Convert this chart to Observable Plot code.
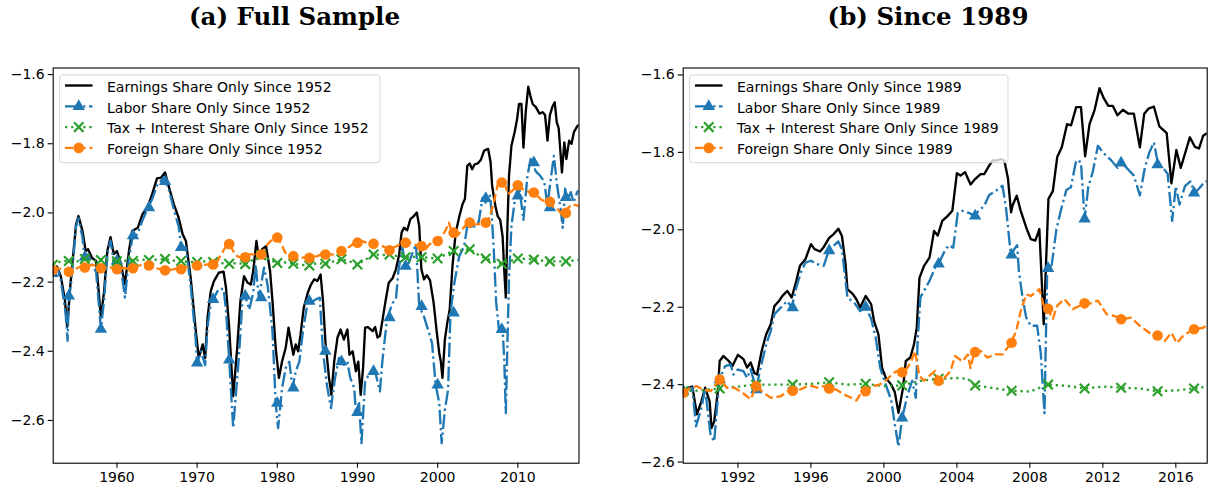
<!DOCTYPE html>
<html><head><meta charset="utf-8">
<script src="https://cdn.jsdelivr.net/npm/d3@7"></script>
<script src="https://cdn.jsdelivr.net/npm/@observablehq/plot@0.6"></script>
<style>
html,body{margin:0;padding:0;background:#fff;}
#fig{position:relative;width:1213px;height:493px;overflow:hidden;font-family:"DejaVu Sans";}
#fig > svg{position:absolute;top:0;margin:0;}
</style></head><body><div id="fig"></div>
<script>
// ---------------- DATA ----------------
const yTicks = [-2.6, -2.4, -2.2, -2.0, -1.8, -1.6];
const fullXTicks = [1960, 1970, 1980, 1990, 2000, 2010];
const sinceXTicks = [1992, 1996, 2000, 2004, 2008, 2012, 2016];
const titles = ["(a) Full Sample", "(b) Since 1989"];
const fullLabels = ["Earnings Share Only Since 1952", "Labor Share Only Since 1952", "Tax + Interest Share Only Since 1952", "Foreign Share Only Since 1952"];
const sinceLabels = ["Earnings Share Only Since 1989", "Labor Share Only Since 1989", "Tax + Interest Share Only Since 1989", "Foreign Share Only Since 1989"];

// Panel (a): full sample
const earningsFull = [[1952.0,-2.17],[1952.5,-2.155],[1953.0,-2.183],[1953.5,-2.25],[1953.8,-2.33],[1954.2,-2.206],[1954.9,-2.033],[1955.2,-2.009],[1955.7,-2.052],[1956.1,-2.11],[1956.4,-2.105],[1956.9,-2.13],[1957.4,-2.139],[1958.0,-2.303],[1958.4,-2.226],[1958.8,-2.11],[1959.2,-2.07],[1959.6,-2.119],[1960.0,-2.11],[1960.5,-2.148],[1961.0,-2.206],[1961.5,-2.11],[1961.9,-2.052],[1962.6,-2.043],[1963.2,-2.003],[1963.8,-1.985],[1964.4,-1.945],[1965.0,-1.90],[1965.5,-1.898],[1966.0,-1.883],[1966.5,-1.927],[1967.1,-1.975],[1967.7,-2.014],[1968.2,-2.062],[1968.6,-2.081],[1969.2,-2.188],[1969.8,-2.332],[1970.2,-2.419],[1970.7,-2.38],[1971.0,-2.42],[1971.3,-2.303],[1971.7,-2.226],[1972.1,-2.197],[1972.7,-2.173],[1973.3,-2.17],[1973.6,-2.216],[1974.0,-2.332],[1974.5,-2.53],[1975.0,-2.39],[1975.4,-2.255],[1975.85,-2.183],[1976.3,-2.202],[1976.7,-2.207],[1977.0,-2.168],[1977.4,-2.081],[1977.7,-2.13],[1978.1,-2.105],[1978.6,-2.096],[1979.1,-2.168],[1979.4,-2.255],[1979.8,-2.39],[1980.2,-2.477],[1980.6,-2.429],[1981.05,-2.39],[1981.4,-2.332],[1981.7,-2.371],[1982.0,-2.41],[1982.3,-2.38],[1982.6,-2.40],[1982.9,-2.352],[1983.3,-2.274],[1983.8,-2.231],[1984.2,-2.207],[1984.6,-2.192],[1985.0,-2.197],[1985.4,-2.178],[1985.7,-2.255],[1986.0,-2.371],[1986.45,-2.477],[1986.75,-2.526],[1987.1,-2.429],[1987.5,-2.361],[1987.9,-2.337],[1988.3,-2.366],[1988.75,-2.337],[1989.0,-2.41],[1989.4,-2.40],[1989.8,-2.458],[1990.1,-2.43],[1990.4,-2.526],[1990.7,-2.448],[1990.95,-2.332],[1991.3,-2.33],[1991.9,-2.342],[1992.2,-2.33],[1992.5,-2.36],[1992.8,-2.355],[1993.1,-2.313],[1993.5,-2.255],[1993.9,-2.202],[1994.4,-2.188],[1994.8,-2.163],[1995.2,-2.12],[1995.5,-2.057],[1995.8,-2.043],[1996.2,-2.05],[1996.6,-2.018],[1997.0,-2.01],[1997.4,-1.999],[1997.7,-2.038],[1997.97,-2.163],[1998.3,-2.192],[1998.65,-2.18],[1999.05,-2.195],[1999.5,-2.26],[1999.9,-2.347],[2000.2,-2.405],[2000.4,-2.43],[2000.6,-2.477],[2000.9,-2.366],[2001.2,-2.318],[2001.5,-2.28],[2001.85,-2.154],[2002.25,-2.057],[2002.7,-2.01],[2003.1,-1.975],[2003.4,-1.96],[2003.7,-1.864],[2004.0,-1.857],[2004.3,-1.874],[2004.6,-1.86],[2005.0,-1.857],[2005.4,-1.846],[2005.8,-1.82],[2006.3,-1.815],[2006.6,-1.853],[2006.8,-1.922],[2007.2,-1.98],[2007.5,-2.01],[2007.8,-2.02],[2008.1,-2.067],[2008.3,-2.163],[2008.5,-2.245],[2008.7,-2.04],[2008.9,-1.893],[2009.2,-1.806],[2009.6,-1.767],[2009.9,-1.73],[2010.15,-1.685],[2010.45,-1.685],[2010.7,-1.811],[2011.0,-1.704],[2011.3,-1.635],[2011.55,-1.66],[2011.85,-1.685],[2012.25,-1.694],[2012.7,-1.713],[2013.1,-1.709],[2013.4,-1.717],[2013.7,-1.791],[2014.0,-1.717],[2014.3,-1.694],[2014.6,-1.68],[2014.85,-1.737],[2015.1,-1.756],[2015.5,-1.883],[2015.8,-1.796],[2016.05,-1.844],[2016.4,-1.791],[2016.7,-1.80],[2017.0,-1.766],[2017.4,-1.75],[2017.63,-1.745]];

const laborFull = [[1952.0,-2.175],[1952.6,-2.16],[1953.0,-2.195],[1953.6,-2.29],[1953.85,-2.37],[1954.0,-2.24],[1954.3,-2.2],[1954.9,-2.04],[1955.2,-2.015],[1955.7,-2.07],[1955.95,-2.128],[1956.4,-2.12],[1956.9,-2.15],[1957.4,-2.17],[1958.0,-2.336],[1958.4,-2.25],[1958.8,-2.12],[1959.2,-2.08],[1959.6,-2.14],[1960.0,-2.139],[1960.5,-2.16],[1961.0,-2.245],[1961.5,-2.13],[1961.9,-2.076],[1962.6,-2.06],[1963.2,-2.02],[1963.8,-1.99],[1964.4,-1.96],[1965.0,-1.92],[1965.8,-1.898],[1966.0,-1.909],[1966.5,-1.935],[1967.1,-1.99],[1967.7,-2.04],[1968.0,-2.1],[1968.6,-2.1],[1969.2,-2.21],[1969.8,-2.36],[1970.0,-2.434],[1970.5,-2.4],[1971.0,-2.44],[1971.3,-2.33],[1971.7,-2.26],[1972.0,-2.25],[1972.7,-2.22],[1973.3,-2.22],[1973.6,-2.28],[1974.0,-2.425],[1974.5,-2.622],[1975.2,-2.42],[1975.7,-2.236],[1976.0,-2.24],[1976.5,-2.28],[1977.0,-2.23],[1977.3,-2.149],[1977.7,-2.245],[1978.35,-2.158],[1978.8,-2.21],[1979.4,-2.342],[1979.8,-2.55],[1980.1,-2.622],[1980.6,-2.506],[1981.05,-2.448],[1981.5,-2.43],[1981.9,-2.506],[1982.3,-2.458],[1982.75,-2.43],[1983.2,-2.342],[1983.8,-2.255],[1984.2,-2.26],[1984.8,-2.25],[1985.3,-2.245],[1985.7,-2.40],[1986.2,-2.50],[1986.7,-2.564],[1987.2,-2.477],[1987.7,-2.419],[1988.0,-2.43],[1988.3,-2.439],[1988.75,-2.43],[1989.1,-2.477],[1989.6,-2.506],[1989.8,-2.577],[1990.2,-2.55],[1990.5,-2.666],[1990.95,-2.487],[1991.4,-2.468],[1991.9,-2.458],[1992.3,-2.468],[1992.8,-2.516],[1993.1,-2.43],[1993.7,-2.303],[1994.4,-2.26],[1994.8,-2.25],[1995.1,-2.168],[1995.6,-2.10],[1996.0,-2.154],[1996.4,-2.144],[1997.3,-2.09],[1997.7,-2.27],[1998.3,-2.30],[1998.7,-2.33],[1999.3,-2.376],[1999.75,-2.497],[2000.2,-2.55],[2000.5,-2.666],[2000.9,-2.57],[2001.3,-2.511],[2001.6,-2.289],[2002.1,-2.20],[2002.7,-2.125],[2003.3,-2.096],[2003.7,-2.038],[2004.3,-2.028],[2005.1,-2.028],[2005.6,-1.956],[2006.0,-1.97],[2006.5,-1.946],[2006.7,-1.99],[2007.0,-2.105],[2007.3,-2.26],[2007.65,-2.337],[2008.1,-2.337],[2008.3,-2.42],[2008.5,-2.579],[2008.7,-2.38],[2008.9,-2.19],[2009.2,-2.038],[2009.7,-1.951],[2010.15,-1.92],[2010.7,-2.02],[2011.2,-1.893],[2011.6,-1.844],[2012.25,-1.88],[2012.8,-1.893],[2013.3,-1.91],[2013.7,-1.98],[2014.0,-1.92],[2014.5,-1.835],[2014.9,-1.92],[2015.35,-1.99],[2015.6,-2.043],[2015.9,-1.93],[2016.2,-1.96],[2016.6,-1.94],[2016.95,-1.97],[2017.4,-1.94],[2017.63,-1.935]];
const laborFullMarks = [[1952,-2.175],[1954,-2.24],[1956,-2.128],[1958,-2.336],[1960,-2.139],[1962,-2.066],[1964,-1.985],[1966,-1.909],[1968,-2.10],[1970,-2.434],[1972,-2.25],[1974,-2.425],[1976,-2.24],[1978,-2.245],[1980,-2.55],[1982,-2.506],[1984,-2.255],[1986,-2.40],[1988,-2.43],[1990,-2.577],[1992,-2.458],[1994,-2.303],[1996,-2.154],[1998,-2.27],[2000,-2.497],[2002,-2.289],[2004,-2.032],[2006,-1.958],[2008,-2.337],[2010,-1.951],[2012,-1.855],[2014,-1.985],[2016,-1.955]];

const taxFull = [[1952,-2.15],[1953,-2.14],[1954,-2.139],[1955,-2.14],[1956,-2.133],[1957,-2.14],[1958,-2.136],[1959,-2.135],[1960,-2.14],[1961,-2.138],[1962,-2.139],[1963,-2.135],[1964,-2.136],[1965,-2.135],[1966,-2.133],[1967,-2.138],[1968,-2.139],[1969,-2.142],[1970,-2.142],[1971,-2.14],[1972,-2.142],[1973,-2.145],[1974,-2.147],[1975,-2.145],[1976,-2.148],[1977,-2.135],[1978,-2.122],[1979,-2.135],[1980,-2.145],[1981,-2.143],[1982,-2.147],[1983,-2.15],[1984,-2.152],[1985,-2.145],[1986,-2.147],[1987,-2.14],[1988,-2.134],[1989,-2.14],[1990,-2.149],[1991,-2.135],[1992,-2.12],[1993,-2.122],[1994,-2.12],[1995,-2.125],[1996,-2.128],[1997,-2.127],[1998,-2.128],[1999,-2.13],[2000,-2.132],[2001,-2.12],[2002,-2.11],[2003,-2.108],[2004,-2.105],[2005,-2.12],[2006,-2.132],[2007,-2.14],[2008,-2.147],[2009,-2.14],[2010,-2.132],[2011,-2.133],[2012,-2.135],[2013,-2.138],[2014,-2.14],[2015,-2.14],[2016,-2.14],[2017.63,-2.136]];
const taxFullMarks = [[1952,-2.15],[1954,-2.139],[1956,-2.133],[1958,-2.136],[1960,-2.14],[1962,-2.139],[1964,-2.136],[1966,-2.133],[1968,-2.139],[1970,-2.142],[1972,-2.142],[1974,-2.147],[1976,-2.148],[1978,-2.122],[1980,-2.145],[1982,-2.147],[1984,-2.152],[1986,-2.147],[1988,-2.134],[1990,-2.149],[1992,-2.12],[1994,-2.12],[1996,-2.128],[1998,-2.128],[2000,-2.132],[2002,-2.11],[2004,-2.105],[2006,-2.132],[2008,-2.147],[2010,-2.132],[2012,-2.135],[2014,-2.14],[2016,-2.14]];

const foreignFull = [[1952.0,-2.165],[1952.5,-2.16],[1953.0,-2.162],[1953.5,-2.165],[1954.0,-2.17],[1954.5,-2.165],[1955.0,-2.16],[1955.5,-2.155],[1956.0,-2.158],[1956.5,-2.152],[1957.0,-2.15],[1957.5,-2.155],[1958.0,-2.16],[1958.5,-2.158],[1959.0,-2.155],[1959.5,-2.16],[1960.0,-2.163],[1960.5,-2.158],[1961.0,-2.16],[1961.5,-2.162],[1962.0,-2.16],[1962.5,-2.155],[1963.0,-2.15],[1963.5,-2.148],[1964.0,-2.152],[1964.5,-2.155],[1965.0,-2.16],[1965.5,-2.163],[1966.0,-2.166],[1966.5,-2.165],[1967.0,-2.163],[1967.5,-2.16],[1968.0,-2.163],[1968.5,-2.158],[1969.0,-2.155],[1969.5,-2.152],[1970.0,-2.152],[1970.5,-2.15],[1971.0,-2.15],[1971.5,-2.148],[1972.0,-2.149],[1972.5,-2.14],[1973.0,-2.12],[1973.5,-2.1],[1974.0,-2.09],[1974.5,-2.11],[1975.0,-2.125],[1975.5,-2.13],[1976.0,-2.128],[1976.5,-2.12],[1977.0,-2.12],[1977.5,-2.118],[1978.0,-2.12],[1978.5,-2.1],[1979.0,-2.085],[1979.5,-2.075],[1980.0,-2.071],[1980.5,-2.09],[1981.0,-2.115],[1981.5,-2.122],[1982.0,-2.125],[1982.5,-2.128],[1983.0,-2.13],[1983.5,-2.128],[1984.0,-2.13],[1984.5,-2.126],[1985.0,-2.125],[1985.5,-2.12],[1986.0,-2.12],[1986.5,-2.12],[1987.0,-2.12],[1987.5,-2.115],[1988.0,-2.11],[1988.5,-2.1],[1989.0,-2.098],[1989.5,-2.09],[1990.0,-2.086],[1990.5,-2.081],[1991.0,-2.085],[1991.5,-2.09],[1992.0,-2.089],[1992.5,-2.093],[1993.0,-2.095],[1993.5,-2.1],[1994.0,-2.108],[1994.5,-2.1],[1995.0,-2.095],[1995.5,-2.086],[1996.0,-2.086],[1996.5,-2.086],[1997.0,-2.09],[1997.5,-2.095],[1998.0,-2.096],[1998.5,-2.105],[1999.0,-2.09],[1999.5,-2.085],[2000.0,-2.081],[2000.5,-2.068],[2001.0,-2.05],[2001.4,-2.028],[2001.7,-2.05],[2002.0,-2.057],[2002.5,-2.065],[2003.0,-2.05],[2003.5,-2.035],[2004.0,-2.028],[2004.5,-2.033],[2005.0,-2.033],[2005.5,-2.03],[2006.0,-2.028],[2006.5,-2.012],[2007.0,-1.97],[2007.5,-1.917],[2008.0,-1.912],[2008.5,-1.925],[2008.75,-1.946],[2009.3,-1.936],[2010.0,-1.92],[2010.5,-1.93],[2011.0,-1.936],[2011.5,-1.94],[2012.0,-1.941],[2012.5,-1.952],[2013.0,-1.963],[2013.5,-1.966],[2014.0,-1.968],[2014.5,-1.985],[2015.0,-1.99],[2015.5,-2.005],[2016.0,-2.0],[2016.3,-1.985],[2016.8,-1.975],[2017.63,-1.98]];
const foreignFullMarks = [[1952,-2.165],[1954,-2.17],[1956,-2.158],[1958,-2.16],[1960,-2.163],[1962,-2.16],[1964,-2.152],[1966,-2.166],[1968,-2.163],[1970,-2.152],[1972,-2.149],[1974,-2.09],[1976,-2.128],[1978,-2.12],[1980,-2.071],[1982,-2.125],[1984,-2.13],[1986,-2.12],[1988,-2.11],[1990,-2.086],[1992,-2.089],[1994,-2.108],[1996,-2.086],[1998,-2.096],[2000,-2.081],[2002,-2.057],[2004,-2.028],[2006,-2.028],[2008,-1.912],[2010,-1.92],[2012,-1.941],[2014,-1.968],[2016,-2.0]];

// Panel (b): since 1989
const earningsSince = [[1989.0,-2.417],[1989.3,-2.408],[1989.5,-2.405],[1989.75,-2.477],[1990.0,-2.443],[1990.2,-2.408],[1990.45,-2.443],[1990.55,-2.512],[1990.7,-2.495],[1990.9,-2.417],[1991.0,-2.339],[1991.2,-2.326],[1991.5,-2.339],[1991.7,-2.352],[1992.0,-2.323],[1992.3,-2.334],[1992.5,-2.356],[1992.7,-2.343],[1992.9,-2.37],[1993.05,-2.374],[1993.3,-2.313],[1993.55,-2.27],[1993.8,-2.244],[1994.0,-2.197],[1994.25,-2.184],[1994.45,-2.17],[1994.7,-2.158],[1994.95,-2.175],[1995.2,-2.132],[1995.4,-2.093],[1995.7,-2.076],[1996.0,-2.037],[1996.2,-2.05],[1996.5,-2.056],[1996.7,-2.045],[1997.0,-2.021],[1997.25,-2.011],[1997.5,-1.997],[1997.7,-2.016],[1997.9,-2.089],[1998.0,-2.153],[1998.3,-2.166],[1998.5,-2.18],[1998.7,-2.201],[1999.0,-2.171],[1999.3,-2.192],[1999.46,-2.236],[1999.7,-2.27],[1999.9,-2.357],[2000.1,-2.382],[2000.4,-2.40],[2000.6,-2.42],[2000.8,-2.473],[2001.05,-2.408],[2001.2,-2.339],[2001.45,-2.33],[2001.65,-2.296],[2001.8,-2.253],[2001.95,-2.124],[2002.2,-2.093],[2002.5,-2.072],[2002.75,-2.003],[2002.95,-2.015],[2003.2,-1.977],[2003.5,-1.964],[2003.75,-1.951],[2004.0,-1.854],[2004.2,-1.86],[2004.45,-1.851],[2004.75,-1.883],[2005.0,-1.869],[2005.3,-1.856],[2005.5,-1.856],[2005.77,-1.834],[2005.95,-1.821],[2006.2,-1.821],[2006.4,-1.817],[2006.6,-1.821],[2006.8,-1.867],[2006.97,-1.955],[2007.05,-1.937],[2007.28,-1.912],[2007.5,-1.951],[2007.8,-1.994],[2008.05,-2.024],[2008.3,-2.028],[2008.52,-1.998],[2008.76,-2.244],[2009.02,-1.92],[2009.26,-1.90],[2009.5,-1.812],[2009.75,-1.787],[2010.04,-1.727],[2010.26,-1.73],[2010.54,-1.683],[2010.8,-1.683],[2011.03,-1.81],[2011.27,-1.727],[2011.55,-1.69],[2011.82,-1.634],[2012.05,-1.66],[2012.3,-1.68],[2012.55,-1.68],[2012.8,-1.704],[2013.1,-1.69],[2013.4,-1.70],[2013.7,-1.70],[2014.03,-1.787],[2014.27,-1.70],[2014.5,-1.687],[2014.8,-1.682],[2015.1,-1.733],[2015.5,-1.75],[2015.76,-1.88],[2016.03,-1.794],[2016.27,-1.84],[2016.77,-1.761],[2017.05,-1.786],[2017.27,-1.79],[2017.5,-1.757],[2017.72,-1.75]];

const laborSince = [[1989.0,-2.417],[1989.5,-2.408],[1989.7,-2.508],[1990.0,-2.46],[1990.2,-2.41],[1990.5,-2.53],[1990.7,-2.547],[1990.85,-2.46],[1991.0,-2.385],[1991.3,-2.352],[1991.6,-2.348],[1991.75,-2.374],[1992.0,-2.361],[1992.3,-2.365],[1992.5,-2.383],[1992.7,-2.36],[1993.0,-2.413],[1993.2,-2.365],[1993.55,-2.296],[1993.8,-2.261],[1994.0,-2.218],[1994.35,-2.201],[1994.7,-2.184],[1994.95,-2.201],[1995.2,-2.149],[1995.45,-2.11],[1995.7,-2.085],[1996.0,-2.08],[1996.35,-2.089],[1996.7,-2.093],[1996.98,-2.054],[1997.25,-2.041],[1997.5,-2.03],[1997.7,-2.05],[1997.9,-2.132],[1998.0,-2.175],[1998.4,-2.19],[1998.7,-2.21],[1999.0,-2.2],[1999.3,-2.23],[1999.55,-2.279],[1999.8,-2.357],[2000.1,-2.40],[2000.4,-2.44],[2000.6,-2.503],[2000.8,-2.56],[2001.0,-2.486],[2001.3,-2.426],[2001.55,-2.39],[2001.75,-2.434],[2001.85,-2.287],[2002.0,-2.175],[2002.3,-2.149],[2002.5,-2.132],[2002.85,-2.093],[2003.0,-2.088],[2003.3,-2.058],[2003.55,-2.04],[2003.8,-2.046],[2004.05,-1.956],[2004.3,-1.951],[2004.65,-1.956],[2004.95,-1.964],[2005.2,-1.951],[2005.5,-1.938],[2005.77,-1.91],[2006.05,-1.902],[2006.3,-1.894],[2006.5,-1.886],[2006.7,-1.946],[2006.88,-2.03],[2006.97,-2.065],[2007.15,-2.05],[2007.3,-2.04],[2007.4,-2.108],[2007.6,-2.175],[2007.8,-2.227],[2008.05,-2.248],[2008.4,-2.248],[2008.6,-2.32],[2008.8,-2.474],[2008.95,-2.106],[2009.2,-2.09],[2009.45,-2.0],[2009.7,-1.95],[2010.0,-1.897],[2010.25,-1.89],[2010.54,-1.82],[2010.8,-1.825],[2011.0,-1.972],[2011.2,-1.89],[2011.45,-1.85],[2011.73,-1.783],[2012.0,-1.80],[2012.45,-1.82],[2012.8,-1.84],[2013.05,-1.827],[2013.4,-1.845],[2013.7,-1.86],[2014.03,-1.911],[2014.3,-1.84],[2014.55,-1.80],[2014.8,-1.774],[2015.03,-1.832],[2015.3,-1.84],[2015.55,-1.855],[2015.8,-1.977],[2016.0,-1.887],[2016.2,-1.935],[2016.5,-1.887],[2016.8,-1.875],[2017.04,-1.905],[2017.3,-1.892],[2017.6,-1.875],[2017.72,-1.875]];
const laborSinceMarks = [[1989,-2.417],[1991,-2.387],[1993,-2.413],[1995,-2.201],[1997,-2.054],[1999,-2.2],[2001,-2.486],[2003,-2.088],[2005,-1.964],[2007,-2.065],[2009,-2.10],[2011,-1.972],[2013,-1.827],[2015,-1.832],[2017,-1.905]];

const taxSince = [[1989.0,-2.417],[1990.0,-2.415],[1991.0,-2.41],[1992.0,-2.405],[1993.0,-2.40],[1994.0,-2.40],[1995.0,-2.40],[1996.0,-2.398],[1997.0,-2.394],[1998.0,-2.40],[1999.0,-2.398],[2000.0,-2.404],[2001.0,-2.402],[2002.0,-2.39],[2003.0,-2.385],[2004.0,-2.383],[2004.6,-2.385],[2005.0,-2.402],[2006.0,-2.409],[2007.0,-2.416],[2008.0,-2.418],[2009.0,-2.40],[2010.0,-2.403],[2011.0,-2.41],[2012.0,-2.405],[2013.0,-2.408],[2014.0,-2.41],[2015.0,-2.417],[2016.0,-2.415],[2017.0,-2.41],[2017.72,-2.405]];
const taxSinceMarks = [[1989,-2.417],[1991,-2.41],[1993,-2.40],[1995,-2.40],[1997,-2.394],[1999,-2.398],[2001,-2.402],[2003,-2.385],[2005,-2.402],[2007,-2.416],[2009,-2.40],[2011,-2.41],[2013,-2.408],[2015,-2.417],[2017,-2.41]];

const foreignSince = [[1989.0,-2.421],[1989.4,-2.408],[1989.75,-2.404],[1990.1,-2.413],[1990.5,-2.417],[1991.0,-2.387],[1991.4,-2.408],[1991.8,-2.408],[1992.25,-2.421],[1992.7,-2.438],[1993.0,-2.404],[1993.4,-2.421],[1993.8,-2.434],[1994.35,-2.43],[1994.7,-2.417],[1995.0,-2.416],[1995.4,-2.413],[1995.9,-2.402],[1996.35,-2.408],[1996.7,-2.404],[1997.0,-2.41],[1997.4,-2.413],[1997.8,-2.425],[1998.2,-2.434],[1998.5,-2.441],[1998.7,-2.425],[1999.0,-2.417],[1999.4,-2.404],[1999.75,-2.40],[2000.1,-2.39],[2000.45,-2.373],[2000.7,-2.365],[2001.0,-2.368],[2001.3,-2.356],[2001.5,-2.34],[2001.7,-2.313],[2001.95,-2.377],[2002.2,-2.39],[2002.5,-2.377],[2002.8,-2.365],[2003.0,-2.39],[2003.3,-2.383],[2003.65,-2.365],[2003.9,-2.326],[2004.3,-2.34],[2004.6,-2.322],[2004.75,-2.357],[2004.95,-2.316],[2005.3,-2.313],[2005.66,-2.33],[2006.1,-2.322],[2006.5,-2.322],[2006.97,-2.292],[2007.25,-2.262],[2007.5,-2.21],[2007.8,-2.167],[2008.05,-2.171],[2008.3,-2.162],[2008.52,-2.153],[2008.76,-2.196],[2008.98,-2.204],[2009.26,-2.23],[2009.5,-2.196],[2009.9,-2.179],[2010.35,-2.205],[2011.0,-2.19],[2011.35,-2.19],[2011.73,-2.183],[2012.2,-2.218],[2012.6,-2.222],[2013.05,-2.231],[2013.55,-2.227],[2014.03,-2.248],[2014.55,-2.266],[2015.03,-2.273],[2015.4,-2.287],[2015.76,-2.266],[2016.06,-2.293],[2016.4,-2.274],[2016.65,-2.266],[2017.04,-2.257],[2017.5,-2.253],[2017.72,-2.245]];
const foreignSinceMarks = [[1989,-2.421],[1991,-2.387],[1993,-2.404],[1995,-2.416],[1997,-2.41],[1999,-2.417],[2001,-2.368],[2003,-2.39],[2005,-2.316],[2007,-2.292],[2009,-2.204],[2011,-2.19],[2013,-2.231],[2015,-2.273],[2017,-2.257]];

// ---------------- STYLES ----------------
const styles = [
  {stroke: "#000000", dash: null, symbol: null},
  {stroke: "#1f77b4", dash: "14.5,3.6,2.3,3.6", symbol: "triangle"},
  {stroke: "#2ca02c", dash: "2.3,3.8", symbol: "times"},
  {stroke: "#ff7f0e", dash: "8.5,3.7", symbol: "circle"}
];
const LW = 2.35;
const symR = {triangle: 4.6, times: 4.4, circle: 5.3};

function dotMark(data, st) {
  const base = {x: d => d[0], y: d => d[1], symbol: st.symbol, r: symR[st.symbol], clip: true};
  if (st.symbol === "times") return Plot.dot(data, {...base, stroke: st.stroke, strokeWidth: 2.2, fill: "none"});
  return Plot.dot(data, {...base, fill: st.stroke, stroke: "none"});
}

function panel(cfg) {
  const marks = [];
  cfg.lines.forEach((ln, i) => {
    const st = styles[i];
    marks.push(Plot.line(ln, {x: d => d[0], y: d => d[1], stroke: st.stroke, strokeWidth: LW,
      strokeDasharray: st.dash || undefined, strokeLinejoin: "round", strokeLinecap: "butt", clip: true}));
    if (cfg.marks[i]) marks.push(dotMark(cfg.marks[i], st));
  });
  return Plot.plot({
    width: cfg.width, height: 493,
    marginLeft: cfg.ml, marginRight: cfg.mr, marginTop: 67.5, marginBottom: 30.3,
    x: {domain: cfg.xDomain},
    y: {domain: cfg.yDomain},
    style: {fontFamily: "DejaVu Sans", fontSize: "14px", color: "black", background: "transparent", overflow: "visible"},
    marks: [
      ...marks,
      Plot.frame({stroke: "black", strokeWidth: 1.1}),
      Plot.axisX({ticks: cfg.xTicks, tickFormat: d => String(d), tickSize: 5, tickPadding: 3.5, label: null, fontSize: 14, strokeWidth: 1.1}),
      Plot.axisY({ticks: yTicks, tickFormat: d3.format(".1f"), tickSize: 5, tickPadding: 3.5, label: null, fontSize: 14, strokeWidth: 1.1})
    ]
  });
}

const fig = document.getElementById("fig");
const left = panel({width: 606, ml: 52.7, mr: 27.5, xDomain: [1952.05, 2017.63], yDomain: [-2.7236, -1.581], xTicks: fullXTicks,
  lines: [earningsFull, laborFull, taxFull, foreignFull], marks: [null, laborFullMarks, taxFullMarks, foreignFullMarks]});
left.style.left = "0px";
fig.appendChild(left);
const right = panel({width: 607, ml: 76.7, mr: 6.3, xDomain: [1989.0, 2017.72], yDomain: [-2.603, -1.582], xTicks: sinceXTicks,
  lines: [earningsSince, laborSince, taxSince, foreignSince], marks: [null, laborSinceMarks, taxSinceMarks, foreignSinceMarks]});
right.style.left = "606px";
fig.appendChild(right);

// ---------------- OVERLAY: titles + legends ----------------
const ov = d3.select(fig).append("svg").attr("width", 1213).attr("height", 493)
  .style("position", "absolute").style("left", "0px").style("top", "0px");
[[294.5, titles[0]], [928, titles[1]]].forEach(([cx, t]) => {
  ov.append("text").attr("x", cx).attr("y", 25).attr("text-anchor", "middle")
    .attr("font-family", "DejaVu Serif").attr("font-weight", "bold").attr("font-size", 24.5).attr("fill", "black").text(t);
});

function legend(x0, w, labels) {
  const g = ov.append("g");
  g.append("rect").attr("x", x0).attr("y", 75).attr("width", w).attr("height", 87.7).attr("rx", 3)
    .attr("fill", "white").attr("fill-opacity", 0.8).attr("stroke", "#cccccc").attr("stroke-opacity", 0.8).attr("stroke-width", 1);
  labels.forEach((lab, i) => {
    const st = styles[i];
    const cy = 86.7 + i * 20.8;
    const hy = cy - 1.2;
    const hx0 = x0 + 5.4, hx1 = hx0 + 27.5;
    g.append("line").attr("x1", hx0).attr("x2", hx1).attr("y1", hy).attr("y2", hy)
      .attr("stroke", st.stroke).attr("stroke-width", LW).attr("stroke-dasharray", st.dash || null);
    if (st.symbol) {
      const sym = st.symbol === "triangle" ? d3.symbolTriangle : st.symbol === "circle" ? d3.symbolCircle : (d3.symbolTimes || d3.symbolCross);
      const r = symR[st.symbol];
      const p = g.append("path").attr("d", d3.symbol(sym, Math.PI * r * r)()).attr("transform", `translate(${(hx0 + hx1) / 2},${hy})`);
      if (st.symbol === "times") p.attr("fill", "none").attr("stroke", st.stroke).attr("stroke-width", 2.2);
      else p.attr("fill", st.stroke);
    }
    g.append("text").attr("x", x0 + 47.4).attr("y", cy + 5.1).attr("font-family", "DejaVu Sans").attr("font-size", 14)
      .attr("fill", "black").text(lab);
  });
}
legend(59.6, 320.4, fullLabels);
legend(689.6, 318.4, sinceLabels);
</script></body></html>
